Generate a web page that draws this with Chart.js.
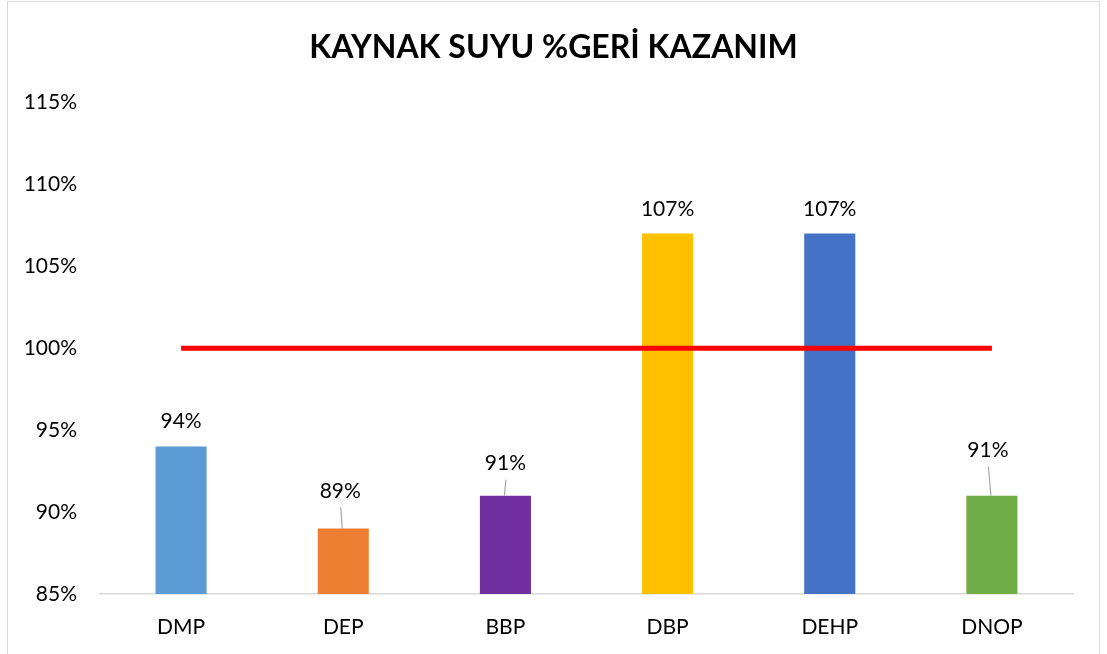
<!DOCTYPE html>
<html>
<head>
<meta charset="utf-8">
<script src="https://cdn.jsdelivr.net/npm/chart.js@4"></script>
<style>
    html, body { margin: 0; padding: 0; background: #fff; }
    #wrap { position: relative; width: 1107px; height: 654px; overflow: hidden; }
    #frame {
        position: absolute; left: 7px; top: 1px; width: 1093px; height: 700px;
        border: 1px solid #d9d9d9; box-sizing: border-box;
    }
    canvas { position: absolute; left: 0; top: 0; }
</style>
</head>
<body>
<div id="wrap">
    <div id="frame"></div>
    <canvas id="chart" width="1107" height="654"></canvas>
</div>
<script>
// Categories and values (percent)
const categories = ['DMP', 'DEP', 'BBP', 'DBP', 'DEHP', 'DNOP'];
const recovery = [94, 89, 91, 107, 107, 91];
const reference = [100, 100, 100, 100, 100, 100];
const yTicks = [85, 90, 95, 100, 105, 110, 115];

const barColors = ['#5B9BD5', '#ED7D31', '#7030A0', '#FFC000', '#4472C4', '#70AD47'];
const fontFamily = 'Lato, "Open Sans", sans-serif';

// label placement: lift above bar top, horizontal nudge, leader line
const labelLift = [25, 37, 32, 24, 24, 45];
const labelNudge = [0, -3, 0, 0, 0, -4];
const labelLeader = [false, true, true, false, false, true];

const barLabels = {
    id: 'barLabels',
    afterDatasetsDraw(chart) {
        const ctx = chart.ctx;
        const meta = chart.getDatasetMeta(0);
        ctx.save();
        ctx.font = '21px ' + fontFamily;
        ctx.fillStyle = '#000';
        ctx.textAlign = 'center';
        ctx.textBaseline = 'middle';
        meta.data.forEach(function(bar, i) {
            const lx = bar.x + labelNudge[i];
            const ly = bar.y - labelLift[i];
            ctx.fillText(recovery[i] + '%', lx, ly);
            if (labelLeader[i]) {
                ctx.strokeStyle = '#a6a6a6';
                ctx.lineWidth = 1.2;
                ctx.beginPath();
                ctx.moveTo(lx + 0.5, ly + 16);
                ctx.lineTo(bar.x - 1, bar.y);
                ctx.stroke();
            }
        });
        ctx.restore();
    }
};

new Chart(document.getElementById('chart'), {
    data: {
        labels: categories,
        datasets: [
            {
                type: 'bar',
                data: recovery,
                backgroundColor: barColors,
                barPercentage: 0.315,
                categoryPercentage: 1,
                order: 1
            },
            {
                type: 'line',
                data: reference,
                borderColor: '#FF0000',
                borderWidth: 5,
                pointRadius: 0,
                fill: false,
                order: 0
            }
        ]
    },
    options: {
        responsive: false,
        animation: false,
        layout: { padding: 0 },
        plugins: {
            legend: { display: false },
            tooltip: { enabled: false },
            title: {
                display: true,
                text: 'KAYNAK SUYU %GERİ KAZANIM',
                color: '#000',
                font: { family: fontFamily, size: 32, weight: 'bold' },
                padding: { top: 28, bottom: 36 }
            }
        },
        scales: {
            x: {
                grid: { display: false, drawTicks: false },
                border: { display: true, color: '#d9d9d9', width: 1.5 },
                ticks: {
                    color: '#000',
                    font: { family: fontFamily, size: 21 },
                    padding: 21
                },
                afterFit: function(scale) { scale.height = 60; }
            },
            y: {
                min: 85,
                max: 115,
                afterBuildTicks: function(scale) {
                    scale.ticks = yTicks.map(function(v) { return { value: v }; });
                },
                grid: { display: false, drawTicks: false },
                border: { display: false },
                ticks: {
                    color: '#000',
                    font: { family: fontFamily, size: 21 },
                    padding: 23,
                    callback: function(value) { return value + '%'; }
                },
                afterFit: function(scale) { scale.width = 100; }
            },
            // empty right-hand spacer so the plot ends where the original does
            spacer: {
                type: 'linear',
                position: 'right',
                grid: { display: false, drawTicks: false },
                border: { display: false },
                ticks: { display: false },
                afterFit: function(scale) { scale.width = 34; }
            }
        }
    },
    plugins: [barLabels]
});
</script>
</body>
</html>
